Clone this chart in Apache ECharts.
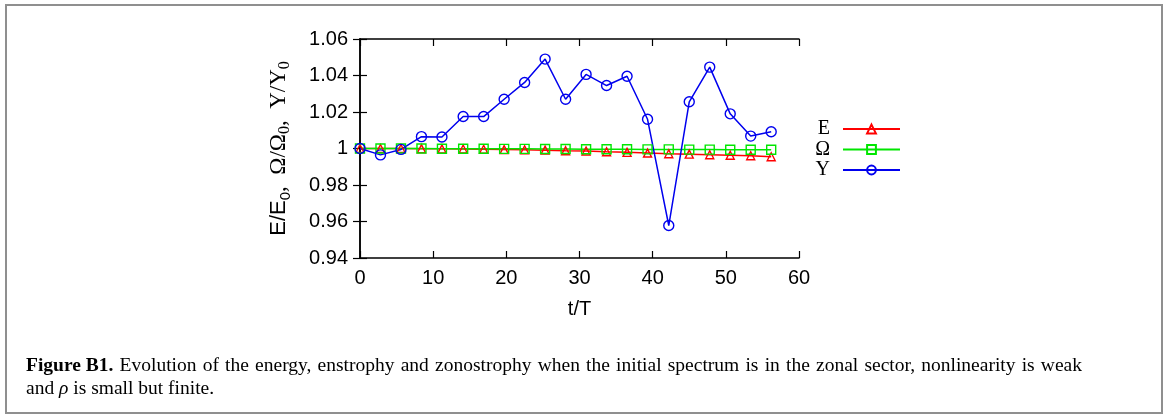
<!DOCTYPE html>
<html><head><meta charset="utf-8">
<script src="https://cdn.jsdelivr.net/npm/echarts/dist/echarts.min.js"></script>
<style>html,body{margin:0;padding:0;background:#fff}#c{width:1170px;height:416px}</style>
</head><body><div id="c"></div>
<script>
const tValues = [0, 2.8, 5.6, 8.4, 11.2, 14.1, 16.9, 19.7, 22.5, 25.3, 28.1, 30.9, 33.7, 36.5, 39.3, 42.2, 45.0, 47.8, 50.6, 53.4, 56.2];
const energy = [1.0000, 1.0000, 1.0000, 0.9999, 0.9998, 0.9997, 0.9996, 0.9994, 0.9993, 0.9991, 0.9988, 0.9986, 0.9982, 0.9979, 0.9975, 0.9971, 0.9969, 0.9966, 0.9963, 0.9960, 0.9955];
const enstrophy = [1.0000, 1.0000, 1.0000, 1.0000, 0.9999, 0.9999, 0.9999, 0.9998, 0.9998, 0.9997, 0.9997, 0.9996, 0.9996, 0.9996, 0.9995, 0.9995, 0.9994, 0.9994, 0.9993, 0.9993, 0.9993];
const zonostrophy = [1.0000, 0.9965, 0.9995, 1.0065, 1.0063, 1.0175, 1.0175, 1.0270, 1.0362, 1.0490, 1.0270, 1.0406, 1.0345, 1.0396, 1.0160, 0.9578, 1.0256, 1.0446, 1.0190, 1.0068, 1.0092];
const seriesNames = ['E', 'Ω', 'Y'];
const xTickLabels = ['0', '10', '20', '30', '40', '50', '60'];
const yTickLabels = ['0.94', '0.96', '0.98', '1', '1.02', '1.04', '1.06'];
const captionBold = 'Figure B1.';
const captionRest = 'Evolution of the energy, enstrophy and zonostrophy when the initial spectrum is in the zonal sector, nonlinearity is weak';

const pair = arr => arr.map((v, i) => [tValues[i], v]);
const SANS = '"Liberation Sans", Arial, sans-serif';
const SERIF = '"Liberation Serif", "Times New Roman", serif';
const CAP_FS = 19.5;
const CAP_LEFT = 26;

// justify first caption line (the original is set justified)
const mctx = document.createElement('canvas').getContext('2d');
function tw(text, font) { mctx.font = font; return mctx.measureText(text).width; }
const capWords = captionRest.split(' ');
const boldW = tw(captionBold, 'bold ' + CAP_FS + 'px ' + SERIF);
const wordsW = capWords.reduce((s, x) => s + tw(x, CAP_FS + 'px ' + SERIF), 0);
const lineTarget = 1082 - CAP_LEFT;
const spW = Math.max(4, (lineTarget - boldW - wordsW) / capWords.length);
const capLine1 = '{b|' + captionBold + '}' + capWords.map(x => '{sp| }{n|' + x + '}').join('');

const chart = echarts.init(document.getElementById('c'), null, {renderer: 'canvas'});
const axisLine = {show: true, lineStyle: {color: '#000', width: 1.5}};
const tick = {show: true, inside: true, length: 7, lineStyle: {color: '#000', width: 1.2}};

function mkSeries(name, data, symbol, color, size) {
  return {
    name, type: 'line', data: pair(data), symbol, symbolSize: size,
    lineStyle: {color, width: 1.5},
    itemStyle: {color: 'transparent', borderColor: color, borderWidth: 1.4},
    emphasis: {disabled: true}, animation: false
  };
}

chart.setOption({
  animation: false,
  backgroundColor: '#fff',
  grid: {left: 360, right: 371, top: 39, bottom: 158, containLabel: false},
  xAxis: [
    {type: 'value', min: 0, max: 60, interval: 10, position: 'bottom',
     axisLine, axisTick: tick, splitLine: {show: false},
     axisLabel: {color: '#000', fontSize: 20, fontFamily: SANS, margin: 10,
       formatter: v => xTickLabels[Math.round(v / 10)]},
     name: 't/T', nameLocation: 'middle', nameGap: 41,
     nameTextStyle: {color: '#000', fontSize: 20, fontFamily: SANS}},
    {type: 'value', min: 0, max: 60, interval: 10, position: 'top',
     axisLine, axisTick: tick, splitLine: {show: false}, axisLabel: {show: false}}
  ],
  yAxis: [
    {type: 'value', min: 0.94, max: 1.06, interval: 0.02, position: 'left',
     axisLine, axisTick: tick, splitLine: {show: false},
     axisLabel: {color: '#000', fontSize: 20, fontFamily: SANS, margin: 12,
       formatter: v => yTickLabels[Math.round((v - 0.94) / 0.02)]},
     name: '{s|E/E}{ss|0}{r|,  Ω/Ω}{rs|0}{r|,  Y/Y}{rs|0}',
     nameLocation: 'middle', nameGap: 67, nameRotate: 90,
     nameTextStyle: {color: '#000', lineHeight: 28, rich: {
       s: {fontFamily: SANS, fontSize: 22, color: '#000', lineHeight: 28},
       ss: {fontFamily: SANS, fontSize: 15, color: '#000', lineHeight: 12, verticalAlign: 'bottom'},
       r: {fontFamily: SERIF, fontSize: 23, color: '#000', lineHeight: 28},
       rs: {fontFamily: SERIF, fontSize: 16, color: '#000', lineHeight: 12, verticalAlign: 'bottom'}
     }}},
    {type: 'value', min: 0.94, max: 1.06, interval: 0.02, position: 'right',
     axisLine, axisTick: tick, splitLine: {show: false}, axisLabel: {show: false}}
  ],
  legend: {
    data: seriesNames, orient: 'vertical', align: 'right', right: 264, top: 114,
    itemWidth: 57, itemHeight: 11, itemGap: 0.5,
    textStyle: {color: '#000', fontFamily: SERIF, fontSize: 20, lineHeight: 20, padding: [0, 8, 0, 0]},
    selectedMode: false
  },
  series: [
    mkSeries(seriesNames[0], energy, 'triangle', '#ff0000', 8),
    mkSeries(seriesNames[1], enstrophy, 'rect', '#00e600', 9),
    mkSeries(seriesNames[2], zonostrophy, 'circle', '#0000ee', 10)
  ],
  graphic: [
    {type: 'rect', shape: {x: 6, y: 5, width: 1156, height: 408}, silent: true,
     style: {fill: 'none', stroke: '#8f8f8f', lineWidth: 2}},
    {type: 'text', left: CAP_LEFT, top: 356, silent: true,
     style: {text: capLine1,
       rich: {b: {fontFamily: SERIF, fontWeight: 'bold', fontSize: CAP_FS, fill: '#000'},
              n: {fontFamily: SERIF, fontSize: CAP_FS, fill: '#000'},
              sp: {fontFamily: SERIF, fontSize: CAP_FS, width: spW}}}},
    {type: 'text', left: CAP_LEFT, top: 379, silent: true,
     style: {text: '{n|and }{i|ρ}{n| is small but finite.}',
       rich: {n: {fontFamily: SERIF, fontSize: CAP_FS, fill: '#000'},
              i: {fontFamily: SERIF, fontStyle: 'italic', fontSize: CAP_FS, fill: '#000'}}}}
  ]
});
</script></body></html>
